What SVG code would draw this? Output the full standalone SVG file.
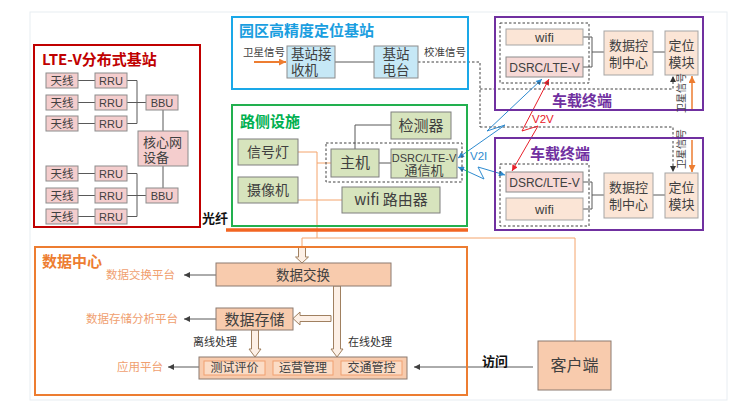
<svg xmlns="http://www.w3.org/2000/svg" width="740" height="408" viewBox="0 0 740 408">
<defs>
<marker id="mk" viewBox="0 0 10 10" refX="10" refY="5" markerWidth="7" markerHeight="6" markerUnits="userSpaceOnUse" orient="auto-start-reverse"><path d="M0,0 L10,5 L0,10 z" fill="#404040"/></marker>
<marker id="mko" viewBox="0 0 10 10" refX="10" refY="5" markerWidth="7" markerHeight="7" markerUnits="userSpaceOnUse" orient="auto-start-reverse"><path d="M0,0 L10,5 L0,10 z" fill="#ed7d31"/></marker>
<marker id="mkd" viewBox="0 0 10 10" refX="10" refY="5" markerWidth="6" markerHeight="6" markerUnits="userSpaceOnUse" orient="auto-start-reverse"><path d="M0,0 L10,5 L0,10 z" fill="#333"/></marker>
<marker id="mkb" viewBox="0 0 10 10" refX="10" refY="5" markerWidth="7" markerHeight="6" markerUnits="userSpaceOnUse" orient="auto-start-reverse"><path d="M0,0 L10,5 L0,10 z" fill="#2e8bd0"/></marker>
<marker id="mkr" viewBox="0 0 10 10" refX="10" refY="5" markerWidth="7" markerHeight="6" markerUnits="userSpaceOnUse" orient="auto-start-reverse"><path d="M0,0 L10,5 L0,10 z" fill="#e8202a"/></marker>
</defs>
<style>
text{font-family:"Noto Sans CJK SC","Noto Sans",sans-serif;fill:#404040}
.lat{font-family:"Liberation Sans","Noto Sans CJK SC",sans-serif}
.c{text-anchor:middle}
.ttl{font-weight:bold;font-size:15px}
.pk{fill:#f4cdcd;stroke:#8c8c8c;stroke-width:1}
.bl{fill:#c6e8f6;stroke:#8c8c8c;stroke-width:1}
.gr{fill:#d7e4bd;stroke:#7f7f7f;stroke-width:1}
.pe{fill:#fbe5d6;stroke:#a5a5a5;stroke-width:1}
.dp{fill:#f8cbad;stroke:#8c7b70;stroke-width:1}
.ip{fill:#fbdcc6;stroke:#f0a070;stroke-width:1}
.ln{fill:none;stroke:#595959;stroke-width:1}
.ol{fill:none;stroke:#f4a46c;stroke-width:1}
.dsh{fill:none;stroke:#404040;stroke-width:1;stroke-dasharray:2.5,2}
.blk{fill:#fdf0e6;stroke:#a08060;stroke-width:1}
.plat{fill:#f0a070;font-size:11.5px}
</style>
<rect x="30" y="12" width="697" height="388" fill="none" stroke="#e8edf2"/>

<g id="connectors">
  <!-- LTE-V -->
  <path class="ln" d="M78,80.5H95M78,102.5H95M78,123.5H95M78,173.5H95M78,195.5H95M78,216.5H95"/>
  <path class="ln" d="M127,80.5H137V123.5H127M127,102.5H146M127,173.5H137V216.5H127M127,195.5H146"/>
  <path class="ln" d="M163,110V131M163,166V188"/>
  <!-- positioning base -->
  <line x1="254" y1="62" x2="286" y2="62" stroke="#ed7d31" stroke-width="2" marker-end="url(#mko)"/>
  <path class="ln" d="M335,62H374"/>
  <path class="dsh" d="M418,62H480V127"/>
  <path class="dsh" d="M480,89H673V76" marker-end="url(#mkd)"/>
  <path class="dsh" d="M480,127H673V172" marker-end="url(#mkd)"/>
  <!-- roadside -->
  <path class="ln" d="M355,149V125H391M379,163H391"/>
  <path class="ol" d="M298,152H317V238M317,163H331M298,200H342"/>
  <path d="M226,230H468" stroke="#f26522" stroke-width="3.5" fill="none"/>
  <path class="ol" d="M302,247V238H575V341"/>
  <!-- terminals -->
  <path class="ln" d="M583,37H592V67H583M592,52H604M653,52H665"/>
  <path class="ln" d="M583,182H592V209H583M592,195H604M653,195H665"/>
  <line x1="692" y1="110" x2="692" y2="76" stroke="#ed7d31" stroke-width="1.5" marker-end="url(#mko)"/>
  <line x1="692" y1="140" x2="692" y2="172" stroke="#ed7d31" stroke-width="1.5" marker-end="url(#mko)"/>
  <!-- wireless -->
  <polyline points="458,158 505,125 487,131 542,79" fill="none" stroke="#2e8bd0" stroke-width="1" marker-start="url(#mkb)" marker-end="url(#mkb)"/>
  <polyline points="458,167 484,179 478,167 505,175" fill="none" stroke="#2e8bd0" stroke-width="1" marker-start="url(#mkb)" marker-end="url(#mkb)"/>
  <polyline points="549,79 522,131 538,126 512,171" fill="none" stroke="#e8202a" stroke-width="1" marker-start="url(#mkr)" marker-end="url(#mkr)"/>
  <!-- data center -->
  <path class="ln" d="M216,275H184" marker-end="url(#mk)"/>
  <path class="ln" d="M216,319H184" marker-end="url(#mk)"/>
  <path class="ln" d="M199,367H168" marker-end="url(#mk)"/>
  <path class="ln" d="M533,367H414" marker-end="url(#mk)"/>
  <path class="blk" d="M298.5,247H305.5V257H308.5L302,263L295.5,257H298.5Z"/>
  <path class="blk" d="M333.5,286H340.5V349H343L337,357L331,349H333.5Z"/>
  <path class="blk" d="M251.5,330H258.5V349H261L255,357L249,349H251.5Z"/>
  <path class="blk" d="M331,315.5H300V312L293,318.5L300,325V321.5H331Z"/>
</g>

<g id="lte-v">
  <rect x="34" y="45" width="166" height="182" fill="none" stroke="#c00000" stroke-width="2"/>
  <text x="42" y="65" class="ttl" fill="#c00000" style="fill:#c00000">LTE-V分布式基站</text>
</g>
<g id="ant1"><rect class="pk" x="46" y="73" width="32" height="15"/><text class="c" x="62" y="84.5" font-size="11.5">天线</text></g>
<g id="ant2"><rect class="pk" x="46" y="95" width="32" height="15"/><text class="c" x="62" y="106.5" font-size="11.5">天线</text></g>
<g id="ant3"><rect class="pk" x="46" y="116" width="32" height="15"/><text class="c" x="62" y="127.5" font-size="11.5">天线</text></g>
<g id="ant4"><rect class="pk" x="46" y="166" width="32" height="15"/><text class="c" x="62" y="177.5" font-size="11.5">天线</text></g>
<g id="ant5"><rect class="pk" x="46" y="188" width="32" height="15"/><text class="c" x="62" y="199.5" font-size="11.5">天线</text></g>
<g id="ant6"><rect class="pk" x="46" y="209" width="32" height="15"/><text class="c" x="62" y="220.5" font-size="11.5">天线</text></g>
<g id="rru1"><rect class="pk" x="95" y="73" width="32" height="15"/><text class="c lat" x="111" y="84.5" font-size="11">RRU</text></g>
<g id="rru2"><rect class="pk" x="95" y="95" width="32" height="15"/><text class="c lat" x="111" y="106.5" font-size="11">RRU</text></g>
<g id="rru3"><rect class="pk" x="95" y="116" width="32" height="15"/><text class="c lat" x="111" y="127.5" font-size="11">RRU</text></g>
<g id="rru4"><rect class="pk" x="95" y="166" width="32" height="15"/><text class="c lat" x="111" y="177.5" font-size="11">RRU</text></g>
<g id="rru5"><rect class="pk" x="95" y="188" width="32" height="15"/><text class="c lat" x="111" y="199.5" font-size="11">RRU</text></g>
<g id="rru6"><rect class="pk" x="95" y="209" width="32" height="15"/><text class="c lat" x="111" y="220.5" font-size="11">RRU</text></g>
<g id="bbu1"><rect class="pk" x="146" y="95" width="32" height="15"/><text class="c lat" x="162" y="106.5" font-size="11">BBU</text></g>
<g id="bbu2"><rect class="pk" x="146" y="188" width="32" height="15"/><text class="c lat" x="162" y="199.5" font-size="11">BBU</text></g>
<g id="core"><rect class="pk" x="138" y="131" width="50" height="35"/><text x="143" font-size="13"><tspan x="143" y="147">核心网</tspan><tspan x="143" y="162">设备</tspan></text></g>

<g id="pos-base">
  <rect x="232" y="17" width="236" height="72" fill="none" stroke="#1aa8e8" stroke-width="2"/>
  <text x="239" y="36" class="ttl" style="fill:#1a9ee0">园区高精度定位基站</text>
  <text x="243" y="56" font-size="10.5">卫星信号</text>
  <text x="424" y="56" font-size="10.5">校准信号</text>
</g>
<g id="receiver"><rect class="bl" x="287" y="46" width="48" height="32"/><text font-size="13.5"><tspan x="291" y="59">基站接</tspan><tspan x="291" y="75">收机</tspan></text></g>
<g id="radio"><rect class="bl" x="374" y="46" width="44" height="32"/><text class="c" font-size="13.5"><tspan x="396" y="59">基站</tspan><tspan x="396" y="75">电台</tspan></text></g>

<g id="roadside">
  <rect x="232" y="105" width="235" height="121" fill="none" stroke="#22b04f" stroke-width="2"/>
  <text x="240" y="127" class="ttl" style="fill:#00b050">路侧设施</text>
  <rect x="326" y="143" width="136" height="39" class="dsh"/>
</g>
<g id="signal"><rect class="gr" x="238" y="139" width="60" height="26"/><text class="c" x="268" y="157" font-size="14">信号灯</text></g>
<g id="camera"><rect class="gr" x="238" y="177" width="60" height="26"/><text class="c" x="268" y="195" font-size="14">摄像机</text></g>
<g id="detector"><rect class="gr" x="391" y="112" width="60" height="27"/><text class="c" x="421" y="131" font-size="15">检测器</text></g>
<g id="host"><rect class="gr" x="331" y="149" width="48" height="28"/><text class="c" x="355" y="168" font-size="15">主机</text></g>
<g id="rsu"><rect class="gr" x="391" y="149" width="66" height="29"/><text class="c lat" x="424" y="162" font-size="11">DSRC/LTE-V</text><text class="c" x="424" y="175" font-size="13">通信机</text></g>
<g id="router"><rect class="gr" x="342" y="187" width="98" height="26"/><text class="c" x="391" y="205" font-size="15">wifi 路由器</text></g>
<g id="fiber-label"><text x="202" y="223" font-size="13" font-weight="bold" style="fill:#111">光纤</text></g>

<g id="vehicle1">
  <rect x="495" y="17" width="208" height="93" fill="none" stroke="#7030a0" stroke-width="2"/>
  <rect x="500" y="23" width="89" height="60" class="dsh"/>
  <text x="552" y="106" class="ttl" style="fill:#7030a0">车载终端</text>
  <rect class="pe" x="506" y="29" width="77" height="16"/><text class="c lat" x="544.5" y="41.5" font-size="13">wifi</text>
  <rect class="pk" x="506" y="57" width="77" height="20" style="fill:#f6d9d6"/><text class="c lat" x="544.5" y="71.5" font-size="12">DSRC/LTE-V</text>
  <rect class="pe" x="604" y="31" width="49" height="44"/><text class="c" font-size="13"><tspan x="628.5" y="50">数据控</tspan><tspan x="628.5" y="67">制中心</tspan></text>
  <rect class="pe" x="665" y="31" width="33" height="44"/><text class="c" font-size="13"><tspan x="681.5" y="50">定位</tspan><tspan x="681.5" y="67">模块</tspan></text>
  <text class="c" font-size="10" transform="translate(685,93) rotate(-90)">卫星信号</text>
</g>
<g id="vehicle2">
  <rect x="495" y="138" width="208" height="92" fill="none" stroke="#7030a0" stroke-width="2"/>
  <rect x="500" y="164" width="89" height="62" class="dsh"/>
  <text x="530" y="159" class="ttl" style="fill:#7030a0">车载终端</text>
  <rect class="pk" x="506" y="172" width="77" height="20" style="fill:#f6d9d6"/><text class="c lat" x="544.5" y="186.5" font-size="12">DSRC/LTE-V</text>
  <rect class="pe" x="506" y="198" width="77" height="22"/><text class="c lat" x="544.5" y="213.5" font-size="13">wifi</text>
  <rect class="pe" x="604" y="173" width="49" height="45"/><text class="c" font-size="13"><tspan x="628.5" y="192">数据控</tspan><tspan x="628.5" y="209">制中心</tspan></text>
  <rect class="pe" x="665" y="173" width="33" height="45"/><text class="c" font-size="13"><tspan x="681.5" y="192">定位</tspan><tspan x="681.5" y="209">模块</tspan></text>
  <text class="c" font-size="10" transform="translate(685,149) rotate(-90)">卫星信号</text>
</g>
<g id="wireless-labels">
  <text class="lat" x="470" y="160" font-size="11.5" style="fill:#2e8bd0">V2I</text>
  <text class="lat" x="532" y="123" font-size="11.5" style="fill:#e8202a">V2V</text>
</g>

<g id="datacenter">
  <rect x="35" y="247" width="432" height="148" fill="none" stroke="#ed7d31" stroke-width="2"/>
  <text x="42" y="267" class="ttl" style="fill:#ed7d31">数据中心</text>
  <text class="plat" x="175" y="279" text-anchor="end">数据交换平台</text>
  <text class="plat" x="178" y="323" text-anchor="end">数据存储分析平台</text>
  <text class="plat" x="163" y="371" text-anchor="end">应用平台</text>
  <text x="193" y="346" font-size="11" style="fill:#333">离线处理</text>
  <text x="348" y="346" font-size="11" style="fill:#333">在线处理</text>
</g>
<g id="exchange"><rect class="dp" x="216" y="263" width="175" height="23"/><text class="c" x="303" y="280" font-size="13.5">数据交换</text></g>
<g id="storage"><rect class="dp" x="216" y="308" width="77" height="22"/><text class="c" x="254.5" y="324.5" font-size="15">数据存储</text></g>
<g id="apps">
  <rect class="dp" x="199" y="357" width="208" height="22"/>
  <rect class="ip" x="204" y="361" width="61" height="14"/><text class="c" x="234.5" y="372.3" font-size="12">测试评价</text>
  <rect class="ip" x="273" y="361" width="60" height="14"/><text class="c" x="303" y="372.3" font-size="12">运营管理</text>
  <rect class="ip" x="341" y="361" width="61" height="14"/><text class="c" x="371.5" y="372.3" font-size="12">交通管控</text>
</g>
<g id="client"><rect class="dp" x="538" y="341" width="73" height="49"/><text class="c" x="574.5" y="371" font-size="16">客户端</text></g>
<g id="access-label"><text x="482" y="366" font-size="13" font-weight="bold" style="fill:#111">访问</text></g>
</svg>
